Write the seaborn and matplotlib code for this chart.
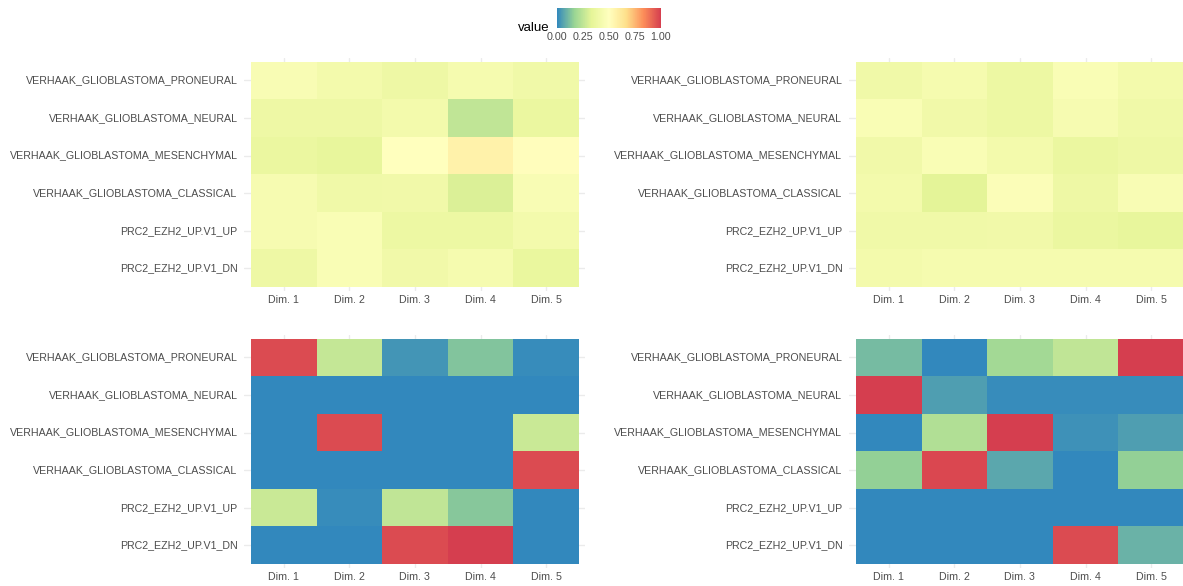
"""
Four heatmaps of gene-set scores per dimension, with a shared colour bar.
"""
import matplotlib
matplotlib.use('Agg')
import matplotlib.pyplot as plt
from matplotlib.colors import LinearSegmentedColormap, Normalize
from matplotlib.cm import ScalarMappable
import numpy as np
import pandas as pd
import seaborn as sns

gene_sets = ['VERHAAK_GLIOBLASTOMA_PRONEURAL',
             'VERHAAK_GLIOBLASTOMA_NEURAL',
             'VERHAAK_GLIOBLASTOMA_MESENCHYMAL',
             'VERHAAK_GLIOBLASTOMA_CLASSICAL',
             'PRC2_EZH2_UP.V1_UP',
             'PRC2_EZH2_UP.V1_DN']
dims = ['Dim. 1', 'Dim. 2', 'Dim. 3', 'Dim. 4', 'Dim. 5']

# values, rows in the order of gene_sets
top_left = [[0.45, 0.42, 0.39, 0.43, 0.40],
            [0.39, 0.39, 0.42, 0.25, 0.37],
            [0.37, 0.35, 0.50, 0.57, 0.51],
            [0.44, 0.40, 0.41, 0.31, 0.45],
            [0.44, 0.46, 0.38, 0.38, 0.42],
            [0.39, 0.46, 0.41, 0.43, 0.36]]
top_right = [[0.40, 0.43, 0.38, 0.46, 0.42],
             [0.46, 0.41, 0.38, 0.44, 0.40],
             [0.41, 0.46, 0.42, 0.37, 0.39],
             [0.42, 0.33, 0.47, 0.39, 0.45],
             [0.40, 0.40, 0.41, 0.37, 0.35],
             [0.42, 0.43, 0.43, 0.43, 0.43]]
bottom_left = [[0.97, 0.26, 0.03, 0.13, 0.01],
               [0.00, 0.00, 0.00, 0.00, 0.00],
               [0.00, 0.97, 0.00, 0.00, 0.27],
               [0.00, 0.00, 0.00, 0.00, 0.97],
               [0.27, 0.01, 0.25, 0.14, 0.00],
               [0.00, 0.00, 0.97, 1.00, 0.00]]
bottom_right = [[0.11, 0.00, 0.19, 0.25, 1.00],
                [1.00, 0.05, 0.01, 0.01, 0.01],
                [0.00, 0.22, 1.00, 0.02, 0.05],
                [0.16, 0.98, 0.07, 0.00, 0.16],
                [0.00, 0.00, 0.00, 0.00, 0.00],
                [0.00, 0.00, 0.00, 0.97, 0.09]]

# brewer Spectral (7 classes), reversed so that 0 is blue
spectral = ['#3288BD', '#99D594', '#E6F598', '#FFFFBF',
            '#FEE08B', '#FC8D59', '#D53E4F']
cmap = LinearSegmentedColormap.from_list('spectral_r', spectral)

sns.set_theme(style='white')
plt.rcParams['font.family'] = ['Liberation Sans', 'DejaVu Sans']

W, H = 1183, 586
fig = plt.figure(figsize=(W / 100, H / 100), dpi=100)

panels = [(top_left, 0.2066, 0.5038),
          (top_right, 0.7180, 0.5038),
          (bottom_left, 0.2066, 0.0311),
          (bottom_right, 0.7180, 0.0311)]
grey = '#4D4D4D'

for values, left, bottom in panels:
    ax = fig.add_axes([left, bottom, 0.2883, 0.3973])
    df = pd.DataFrame(values, index=gene_sets, columns=dims)
    sns.heatmap(df, ax=ax, cmap=cmap, vmin=0, vmax=1, cbar=False,
                linewidths=0)
    ax.set_xlim(-0.1, len(dims) + 0.1)
    ax.set_ylim(len(gene_sets) + 0.1, -0.1)
    ax.set_axisbelow(True)
    ax.grid(True, color='#EBEBEB', linewidth=1)
    ax.set_xlabel('')
    ax.set_ylabel('')
    ax.tick_params(axis='x', length=0, pad=3, labelsize=7.7,
                   labelcolor=grey, labelrotation=0)
    ax.tick_params(axis='y', length=0, pad=5, labelsize=7.7,
                   labelcolor=grey, labelrotation=0)
    for s in ax.spines.values():
        s.set_visible(False)

# colour bar on top
cax = fig.add_axes([0.4708, 0.9522, 0.0879, 0.0341])
cb = fig.colorbar(ScalarMappable(norm=Normalize(0, 1), cmap=cmap),
                  cax=cax, orientation='horizontal',
                  ticks=[0, 0.25, 0.5, 0.75, 1.0])
cb.outline.set_visible(False)
cb.ax.set_xticklabels(['0.00', '0.25', '0.50', '0.75', '1.00'])
cax.tick_params(axis='x', which='both', direction='in', length=4,
                color='white', width=0.8, top=True, bottom=True,
                labelsize=7.7, labelcolor=grey, pad=3)
fig.text(550 / W, 1 - 28 / H, 'value', ha='right', va='center',
         fontsize=9.5, color='black')

fig.savefig('out.png', dpi=100)
